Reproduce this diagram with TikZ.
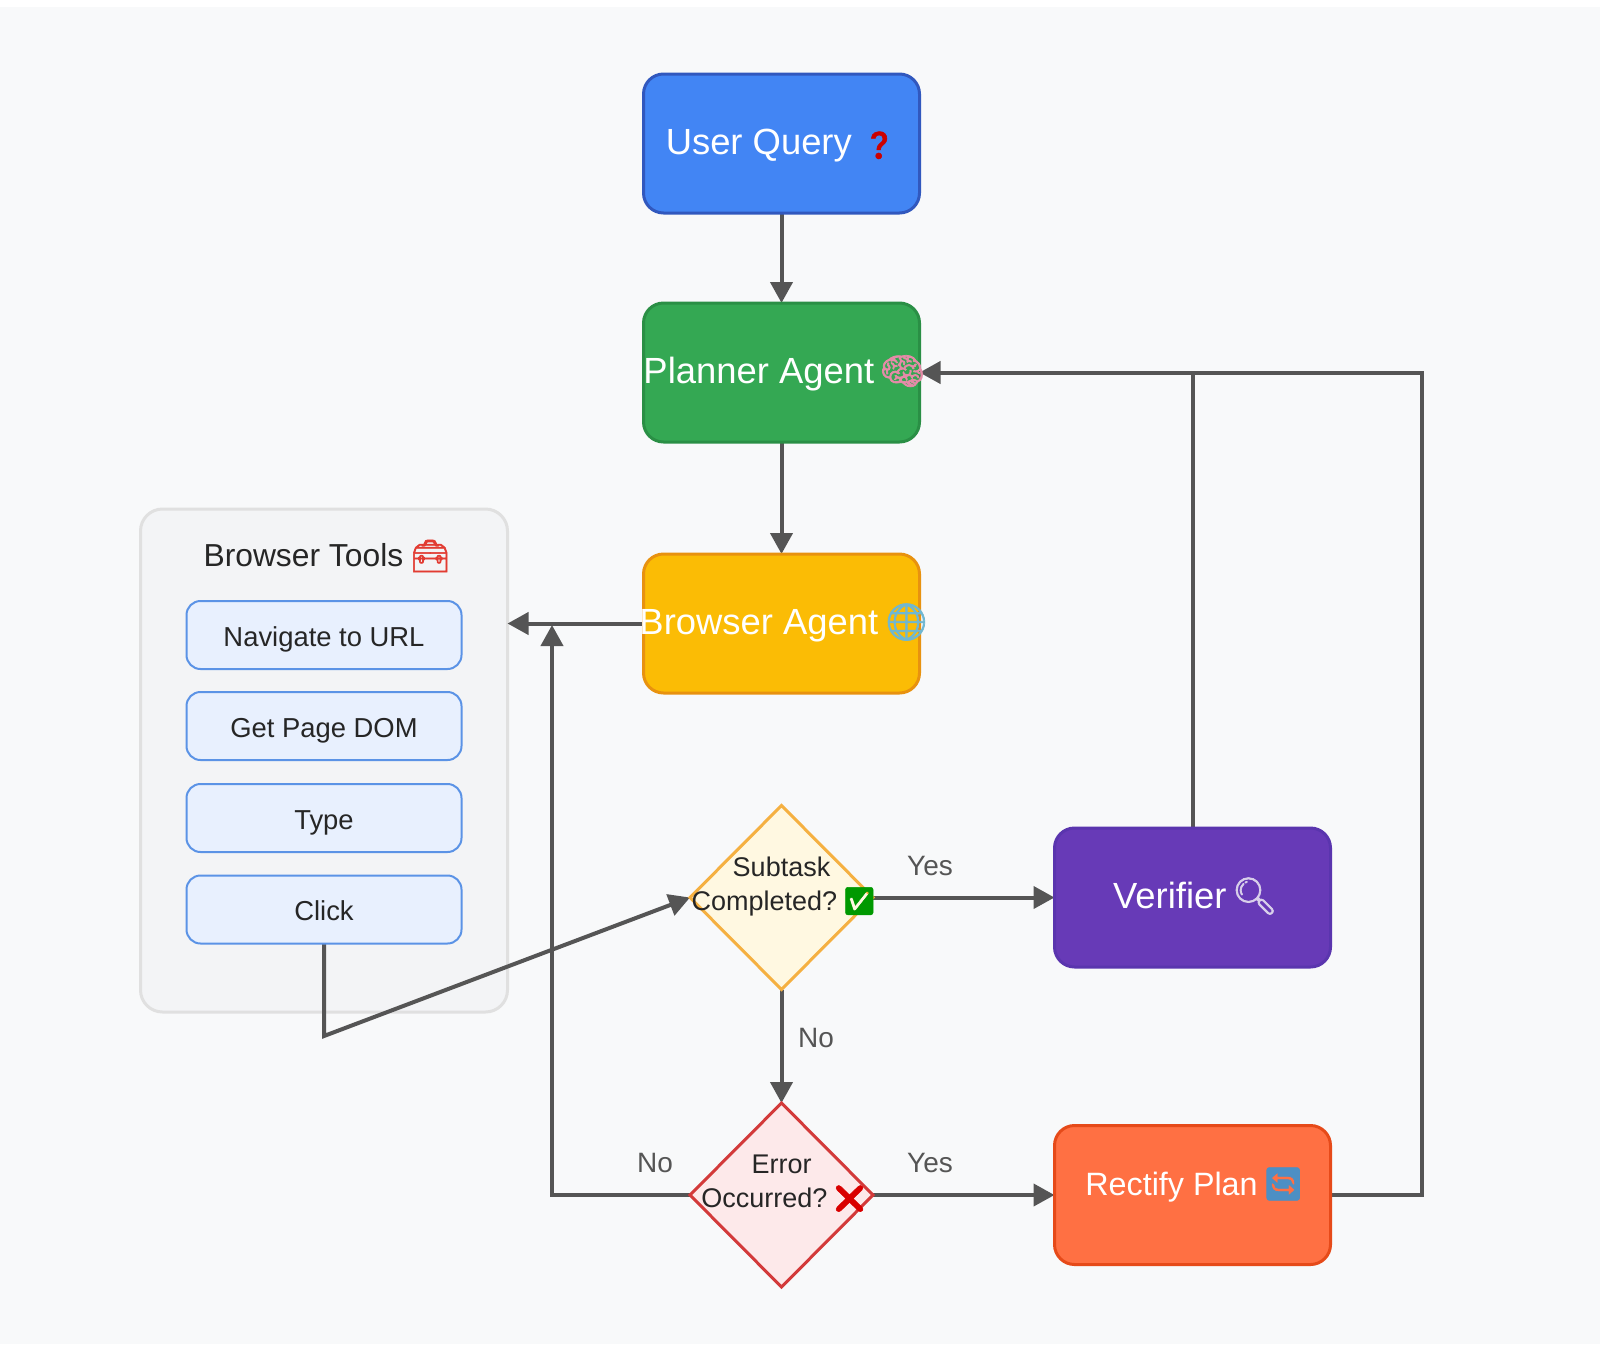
\documentclass[tikz,border=0pt]{standalone}
\usepackage{fontspec}
\setmainfont{Liberation Sans}
\newfontfamily\emojifont[FakeBold=2]{Noto Emoji}
\usetikzlibrary{arrows.meta,shapes.geometric}
\definecolor{pagebg}{HTML}{F8F9FA}
\definecolor{linegray}{HTML}{555555}
\definecolor{querydark}{HTML}{3158BE}
\definecolor{queryfill}{HTML}{4285F4}
\definecolor{plannerdark}{HTML}{2A8F45}
\definecolor{plannerfill}{HTML}{34A853}
\definecolor{browserdark}{HTML}{E8920F}
\definecolor{browserfill}{HTML}{FBBC05}
\definecolor{verifierdark}{HTML}{5A35AE}
\definecolor{verifierfill}{HTML}{673AB7}
\definecolor{rectifydark}{HTML}{E64A19}
\definecolor{rectifyfill}{HTML}{FF7043}
\definecolor{toolfill}{HTML}{E8F0FE}
\definecolor{tooldark}{HTML}{5B93E6}
\definecolor{groupfill}{HTML}{F3F4F6}
\definecolor{groupdark}{HTML}{E0E0E0}
\definecolor{subtaskfill}{HTML}{FFF8E1}
\definecolor{subtaskdark}{HTML}{F5B041}
\definecolor{errorfill}{HTML}{FDE9EA}
\definecolor{errordark}{HTML}{D33A3A}
\definecolor{braincol}{HTML}{E58BA8}
\definecolor{globecol}{HTML}{6FB7D2}
\definecolor{lenscol}{HTML}{D8CFEA}
\definecolor{cyclecol}{HTML}{4C8FC4}
\definecolor{boxcol}{HTML}{E23B32}
\newcommand{\icon}[2]{{\emojifont\color{#1}#2}}
\newcommand{\widetext}[1]{\makebox[0pt]{\begin{tabular}{@{}c@{}}#1\end{tabular}}}
\pgfdeclarelayer{back}
\pgfsetlayers{back,main}
\begin{document}
\begin{tikzpicture}
[x=1pt,y=-1pt,
  boxdecorate/.style={shape=rectangle,rounded corners=20pt,line width=3pt,
    minimum width=276pt,minimum height=139pt,inner sep=0pt,outer sep=0pt,text=white,
    text height=26pt,text depth=4pt,font=\fontsize{36.4}{40}\selectfont},%
  tooldecorate/.style={shape=rectangle,rounded corners=14pt,line width=2pt,
    draw=tooldark,fill=toolfill,minimum width=275pt,minimum height=68pt,
    inner sep=0pt,outer sep=0pt,text=black!85,text height=22pt,text depth=0pt,
    font=\fontsize{27.4}{32}\selectfont},%
  decisiondecorate/.style={shape=diamond,line width=3pt,minimum width=183pt,
    minimum height=184pt,inner sep=0pt,outer sep=0pt,text=black!85,
    font=\fontsize{27}{34}\selectfont},%
  linedecorate/.style={-{Triangle[length=21pt,width=22pt]},line width=4pt,
    draw=linegray},%
  plainline/.style={line width=4pt,draw=linegray},%
  labeldecorate/.style={text=linegray,font=\fontsize{28}{30}\selectfont}]
\useasboundingbox (0,0) rectangle (1600,1344);
%% main boxes
\foreach \nodename/\x/\y/\drawcol/\fillcol/\nodetext in {
  query/781.5/143.5/querydark/queryfill/{\kern-7pt User Query {\fontsize{27}{30}\selectfont\icon{red!80!black}{❓}}},
  planner/781.5/372.5/plannerdark/plannerfill/{Planner Agent \kern-5pt\icon{braincol}{🧠}},
  browser/781.5/623.5/browserdark/browserfill/{Browser Agent \kern-5pt\icon{globecol}{🌐}},
  verifier/1192.5/897.5/verifierdark/verifierfill/{Verifier \kern-5pt\icon{lenscol}{🔍}}} {
  \node (\nodename) at (\x,\y) [boxdecorate,draw=\drawcol,fill=\fillcol]
    {\makebox[0pt]{\kern6pt\nodetext}};
}
\node (rectify) at (1192.5,1195) [boxdecorate,text depth=26pt,draw=rectifydark,
  fill=rectifyfill,font=\fontsize{32.3}{36}\selectfont]
  {\makebox[0pt]{\kern4pt Rectify Plan \kern-4pt\icon{cyclecol}{🔄}}};
%% decisions
\node (subtask) at (781.5,897.5) [decisiondecorate,draw=subtaskdark,fill=subtaskfill]
  {\widetext{Subtask\\\kern5pt Completed? \kern-5pt\icon{green!60!black}{✅}\\[22pt]}};
\node (error) at (781.5,1195) [decisiondecorate,draw=errordark,fill=errorfill]
  {\widetext{Error\\\kern5pt Occurred? \kern-5pt\icon{red!85!black}{❌}\\[22pt]}};
%% tools
\foreach \nodename/\y/\nodetext in {navigate/635/Navigate to URL,
  getdom/726/Get Page DOM, typetext/818/Type, click/909.5/Click} {
  \node (\nodename) at (324,\y) [tooldecorate] {\nodetext};
}
\node (toolstitle) at (327,556) [text=black!85,font=\fontsize{31.8}{36}\selectfont]
  {Browser Tools \kern-2pt\icon{boxcol}{🧰}};
%% edge labels
\node (yesdone) at (930,866) [labeldecorate] {Yes};
\node (nodone) at (816,1038) [labeldecorate] {No};
\node (yeserror) at (930,1163) [labeldecorate] {Yes};
\node (noerror) at (655,1163) [labeldecorate] {No};
%% free ends of the lines
\coordinate (clickturn) at (324,1036);
\coordinate (errorjoin) at (552,625);
\coordinate (verifierjoin) at (1192.5,372.5);
\coordinate (rectifyturn) at (1422,1195);
\begin{pgfonlayer}{back}
\fill[pagebg] (0,7) rectangle (1600,1344);
\node (tools) at (324,760.5) [shape=rectangle,rounded corners=22pt,line width=3pt,
  outer sep=0pt,draw=groupdark,fill=groupfill,minimum width=367pt,minimum height=503pt] {};
%% edges or lines
\path
\foreach \startnode/\endnode in {query/planner, planner/browser, subtask/error} {
  (\startnode.south) edge[linedecorate] (\endnode.north)
}
\foreach \startnode/\endnode in {subtask/verifier, error/rectify} {
  (\startnode.east) edge[linedecorate] (\endnode.west)
};
\draw[linedecorate] (browser.west) -- (browser.west -| tools.east);
\draw[linedecorate] (error.west) -| (errorjoin);
\draw[linedecorate] (click.south) -- (clickturn) -- (subtask.west);
\draw[plainline] (verifier.north) -- (verifierjoin);
\draw[linedecorate] (rectify.east) -- (rectifyturn) |- (planner.east);
\end{pgfonlayer}
\end{tikzpicture}
\end{document}
